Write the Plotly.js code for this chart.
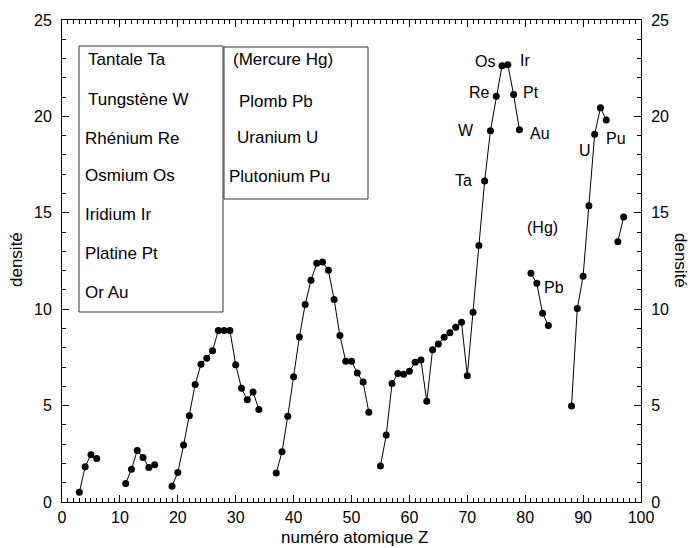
<!DOCTYPE html>
<html>
<head>
<meta charset="utf-8">
<script src="https://cdn.plot.ly/plotly-3.0.1.min.js"></script>
<style>html,body{margin:0;padding:0;background:#fff;}#chart{width:692px;height:548px;}</style>
</head>
<body>
<div id="chart"></div>
<script>
// Atomic number (null = gap between segments)
const atomicNumber = [3,4,5,6, null,
  11,12,13,14,15,16, null,
  19,20,21,22,23,24,25,26,27,28,29,30,31,32,33,34, null,
  37,38,39,40,41,42,43,44,45,46,47,48,49,50,51,52,53, null,
  55,56,57,58,59,60,61,62,63,64,65,66,67,68,69,70,71,72,73,74,75,76,77,78,79, null,
  81,82,83,84, null,
  88,89,90,91,92,93,94, null,
  96,97];
// Density
const density = [0.5,1.83,2.45,2.25, null,
  0.96,1.7,2.67,2.31,1.79,1.93, null,
  0.82,1.53,2.95,4.48,6.1,7.15,7.45,7.85,8.9,8.9,8.9,7.12,5.9,5.3,5.7,4.8, null,
  1.5,2.6,4.45,6.5,8.56,10.25,11.5,12.38,12.45,12.02,10.5,8.64,7.3,7.3,6.69,6.22,4.65, null,
  1.87,3.47,6.14,6.66,6.62,6.78,7.25,7.37,5.22,7.9,8.2,8.54,8.78,9.06,9.32,6.55,9.84,13.31,16.65,19.26,21.04,22.63,22.68,21.13,19.31, null,
  11.86,11.34,9.79,9.16, null,
  4.98,10.04,11.71,15.37,19.07,20.45,19.81, null,
  13.5,14.78];

// Element labels near the points
const pointLabels = ["Os","Ir","Re","Pt","W","Au","Ta","U","Pu","(Hg)","Pb"];
const legendLeft = ["Tantale Ta","Tungstène W","Rhénium Re","Osmium Os","Iridium Ir","Platine Pt","Or Au"];
const legendRight = ["(Mercure Hg)","Plomb Pb","Uranium U","Plutonium Pu"];

const xTicks = [0,10,20,30,40,50,60,70,80,90,100];
const yTicks = [0,5,10,15,20,25];

// pixel -> data / paper helpers for layout placement
const PL=62, PR=641, PT=20, PB=502;
const px2x = p => (p-PL)/(PR-PL)*100;
const py2y = p => (PB-p)/(PB-PT)*25;
const px2p = p => (p-PL)/(PR-PL);
const py2p = p => (PB-p)/(PB-PT);

const FAM = "Liberation Sans, Arial, sans-serif";
const tickFont = {family:FAM, size:16, color:"#000"};
const labelFont = {family:FAM, size:16, color:"#000"};
const boxFont = {family:FAM, size:17, color:"#000"};
const titleFont = {family:FAM, size:17, color:"#000"};

const labelPix = [[485,61],[525,60],[479,92],[531,92],[466,130],[540,133],[463,180],[585,150],[616,138],[542,227],[554,287]];
const annotations = [];
pointLabels.forEach((t,i)=>{
  annotations.push({x:px2x(labelPix[i][0]), y:py2y(labelPix[i][1]), xref:'x', yref:'y', text:t, showarrow:false, font:labelFont, xanchor:'center', yanchor:'middle'});
});
const leftPix = [[86,59],[86,99],[83,138],[83,175],[83,214],[83,253],[83,292]];
legendLeft.forEach((t,i)=>{
  annotations.push({x:px2x(leftPix[i][0]), y:py2y(leftPix[i][1]), xref:'x', yref:'y', text:t, showarrow:false, font:boxFont, xanchor:'left', yanchor:'middle'});
});
const rightPix = [[231,59],[237,101],[235,137],[227,176]];
legendRight.forEach((t,i)=>{
  annotations.push({x:px2x(rightPix[i][0]), y:py2y(rightPix[i][1]), xref:'x', yref:'y', text:t, showarrow:false, font:boxFont, xanchor:'left', yanchor:'middle'});
});
// axis titles
annotations.push({x:px2p(354), y:py2p(537), xref:'paper', yref:'paper', text:'numéro atomique Z', showarrow:false, font:titleFont, xanchor:'center', yanchor:'middle'});
annotations.push({x:px2p(16), y:py2p(260), xref:'paper', yref:'paper', text:'densité', showarrow:false, font:titleFont, textangle:-90, xanchor:'center', yanchor:'middle'});
annotations.push({x:px2p(681), y:py2p(260), xref:'paper', yref:'paper', text:'densité', showarrow:false, font:titleFont, textangle:90, xanchor:'center', yanchor:'middle'});

const shapes = [
  {type:'rect', xref:'x', yref:'y', x0:px2x(79), x1:px2x(223), y0:py2y(312), y1:py2y(46), line:{color:'#333', width:1}},
  {type:'rect', xref:'x', yref:'y', x0:px2x(224), x1:px2x(368), y0:py2y(199), y1:py2y(47), line:{color:'#333', width:1}}
];

const traces = [
  {x:atomicNumber, y:density, type:'scatter', mode:'lines+markers', connectgaps:false,
   line:{color:'#000', width:1}, marker:{color:'#000', size:7}, hoverinfo:'x+y', showlegend:false},
  {x:[null], y:[null], xaxis:'x2', yaxis:'y2', type:'scatter', mode:'markers', showlegend:false, hoverinfo:'skip'}
];

const axisCommon = {showgrid:false, zeroline:false, showline:true, linecolor:'#000', linewidth:1,
  ticks:'inside', ticklen:7, tickcolor:'#000', tickwidth:1, tickfont:tickFont, ticklabelstandoff:6,
  minor:{ticks:'inside', ticklen:4, dtick:1, tickcolor:'#000', tickwidth:1, showgrid:false}};

const layout = {
  width:692, height:548,
  margin:{l:PL, r:692-PR, t:PT, b:548-PB, pad:0},
  paper_bgcolor:'#fff', plot_bgcolor:'#fff',
  font:tickFont,
  xaxis:{...axisCommon, range:[0,100], tickmode:'array', tickvals:xTicks, ticktext:xTicks.map(String), ticklabelstandoff:1},
  xaxis2:{...axisCommon, range:[0,100], tickmode:'array', tickvals:xTicks, showticklabels:false, overlaying:'x', side:'top', anchor:'y2'},
  yaxis:{...axisCommon, range:[0,25], tickmode:'array', tickvals:yTicks, ticktext:yTicks.map(String)},
  yaxis2:{...axisCommon, range:[0,25], tickmode:'array', tickvals:yTicks, ticktext:yTicks.map(String), overlaying:'y', side:'right', anchor:'x2'},
  annotations:annotations,
  shapes:shapes,
  showlegend:false
};

Plotly.newPlot('chart', traces, layout, {displayModeBar:false, staticPlot:true});
</script>
</body>
</html>
